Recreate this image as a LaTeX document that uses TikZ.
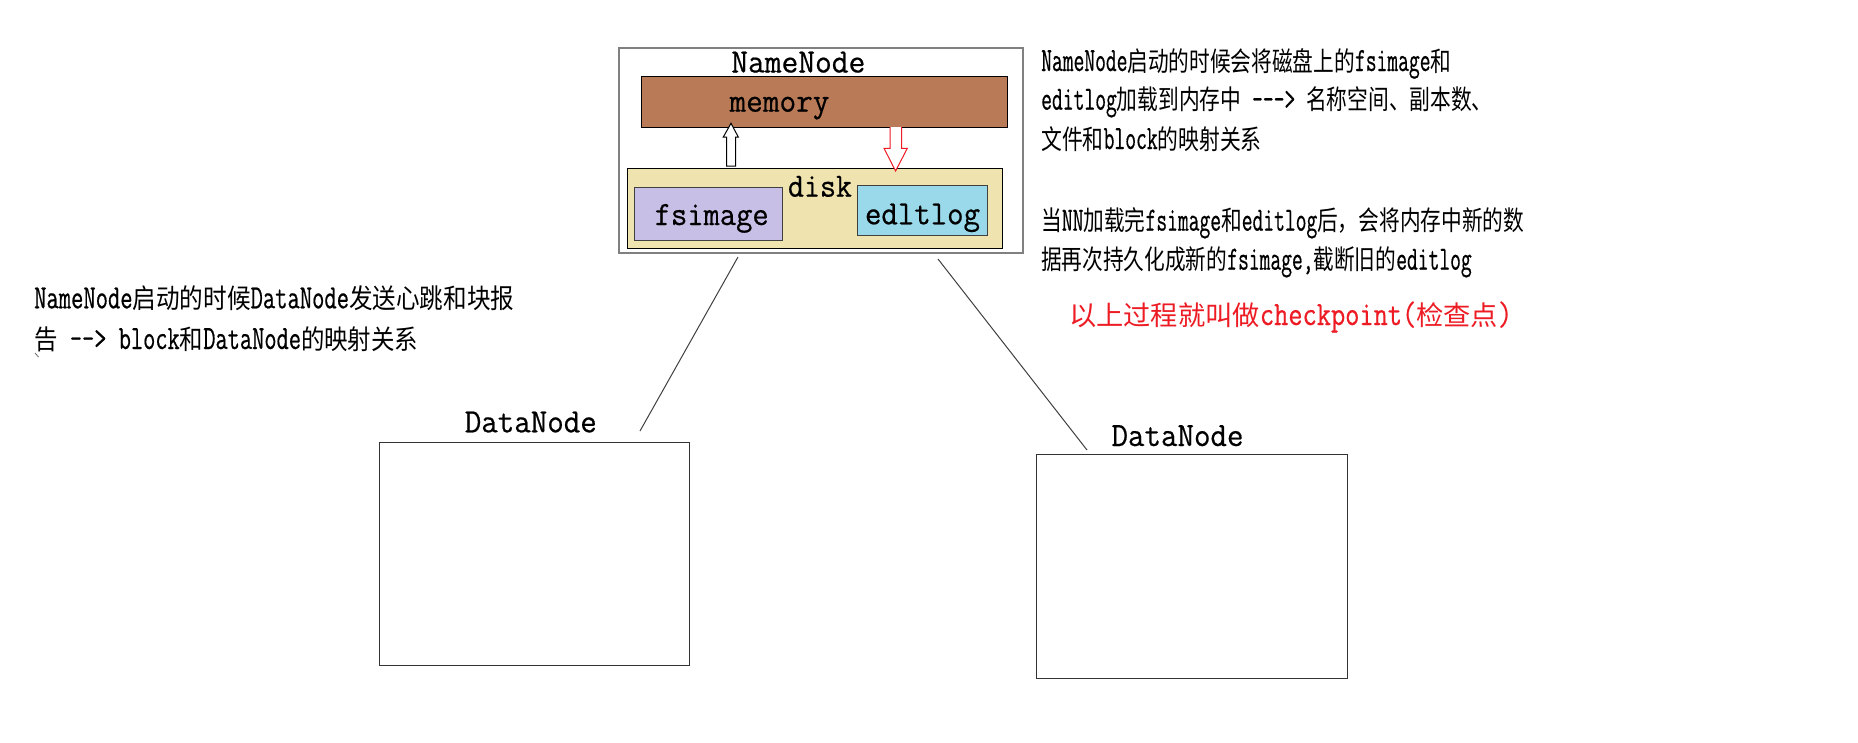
\documentclass[tikz,border=0pt]{standalone}
\usepackage{fontspec}
\usepackage{graphicx}
\newfontfamily\latn{Latin Modern Mono}[FakeStretch=0.804, FakeBold=0.5]
\newfontfamily\cjk{Noto Sans CJK SC}
\newcommand\zh[1]{{\fontsize{27}{30}\cjk #1}}
\definecolor{membrown}{RGB}{185,122,87}
\definecolor{diskyel}{RGB}{239,228,176}
\definecolor{lavend}{RGB}{200,191,231}
\definecolor{turq}{RGB}{153,217,234}
\definecolor{redtxt}{RGB}{237,28,36}
\tikzset{
  txt/.style={anchor=base west, inner sep=0pt, font=\fontsize{34}{36}\latn},
  lbl/.style={anchor=base, inner sep=0pt, font=\fontsize{34}{36}\latn},
  boxnode/.style={draw=black, line width=1.2pt, anchor=north west, inner sep=0pt},
  linkline/.style={draw=black!75, line width=1pt},
}
\begin{document}
\begin{tikzpicture}[x=1pt,y=-1pt]
\useasboundingbox[fill=white] (0,0) rectangle (1858,742);

% NameNode container
\node[boxnode, draw=black!50, line width=1.5pt, minimum width=404pt, minimum height=205pt] (nn) at (618,47) {};
\node[boxnode, fill=membrown, minimum width=366pt, minimum height=51pt] (mem) at (641,76) {};
\node[boxnode, fill=diskyel, minimum width=375pt, minimum height=80pt] (disk) at (627,168) {};
\node[boxnode, fill=lavend, draw=black!75, minimum width=148pt, minimum height=53pt] (fsi) at (634,187) {};
\node[boxnode, fill=turq, draw=black!75, minimum width=130pt, minimum height=50pt] (edl) at (857,185) {};

% labels inside NameNode
\node[lbl] (nnlab) at (798.3,72.5) {\resizebox{134pt}{\height}{NameNode}};
\node[lbl] (memlab) at (779.5,111.7) {\resizebox{100pt}{\height}{memory}};
\node[lbl] (disklab) at (820,196.7) {\resizebox{64pt}{\height}{disk}};
\node[lbl] (fsilab) at (711.7,225) {\resizebox{114pt}{\height}{fsimage}};
\node[lbl] (edllab) at (922.5,224.3) {\resizebox{115pt}{\height}{edltlog}};

% block arrows between memory and disk
\draw[fill=white, draw=black, line width=1pt]
  (726.7,166) -- (726.7,137) -- (723.3,137) -- (731,123.3) -- (738.3,137) -- (735.7,137) -- (735.7,166) -- cycle;
\draw[fill=white, draw=redtxt, line width=1pt]
  (890,127) -- (890,148.3) -- (884,148.3) -- (895.6,171) -- (907.3,148.3) -- (901.7,148.3) -- (901.7,127);

% DataNodes
\node[boxnode, draw=black!80, line width=1.3pt, minimum width=310pt, minimum height=223pt] (dn1) at (379,442) {};
\node[boxnode, draw=black!80, line width=1.3pt, minimum width=311pt, minimum height=224pt] (dn2) at (1036,454) {};
\node[lbl] (dn1lab) at (530.8,432.3) {\resizebox{132pt}{\height}{DataNode}};
\node[lbl] (dn2lab) at (1177.5,446) {\resizebox{132pt}{\height}{DataNode}};

% connecting lines
\coordinate (a1) at (738,257);
\coordinate (a2) at (640,431);
\coordinate (b1) at (938,259);
\coordinate (b2) at (1087,450);
\draw[linkline] (a1) -- (a2);
\draw[linkline] (b1) -- (b2);

% stray mark
\coordinate (s1) at (35,353);
\coordinate (s2) at (38.5,357);
\draw[draw=black!60, line width=0.8pt] (s1) -- (s2);

% right text block
\node[txt] (r1) at (1041,71) {\resizebox{410pt}{\height}{NameNode\zh{启动的时候会将磁盘上的}fsimage\zh{和}}};
\node[txt] (r2) at (1041,109.7) {\resizebox{451.5pt}{\height}{editlog\zh{加载到内存中} ---> \zh{名称空间、副本数、}}};
\node[txt] (r3) at (1041,149) {\resizebox{220.5pt}{\height}{\zh{文件和}block\zh{的映射关系}}};
\node[txt] (r4) at (1041,230.7) {\resizebox{483pt}{\height}{\zh{当}NN\zh{加载完}fsimage\zh{和}editlog\zh{后，会将内存中新的数}}};
\node[txt] (r5) at (1041,269.7) {\resizebox{430.5pt}{\height}{\zh{据再次持久化成新的}fsimage,\zh{截断旧的}editlog}};
\node[txt, text=redtxt] (r6) at (1069,325) {\resizebox{443pt}{\height}{\zh{以上过程就叫做}checkpoint(\zh{检查点})}};

% left text block
\node[txt] (l1) at (34,308.3) {\resizebox{480pt}{\height}{NameNode\zh{启动的时候}DataNode\zh{发送心跳和块报}}};
\node[txt] (l2) at (34,349) {\resizebox{384pt}{\height}{\zh{告} --> block\zh{和}DataNode\zh{的映射关系}}};
\end{tikzpicture}
\end{document}
